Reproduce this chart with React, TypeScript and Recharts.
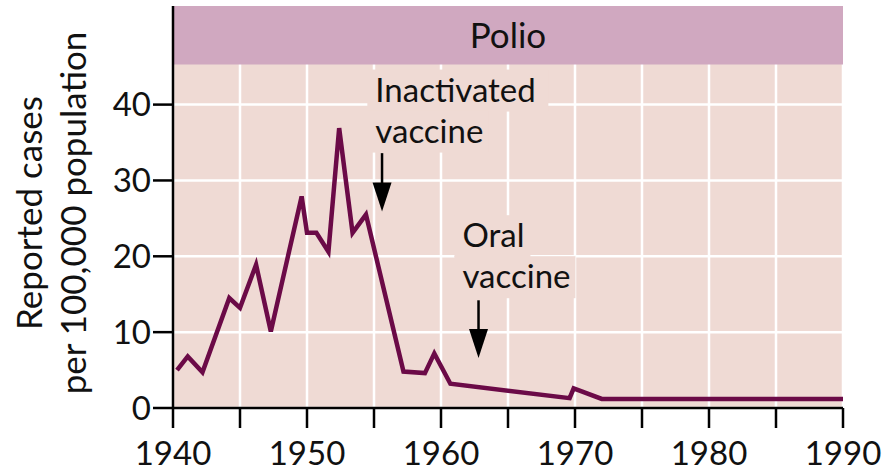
import {
  LineChart,
  Line,
  XAxis,
  YAxis,
  CartesianGrid,
  ReferenceArea,
  ReferenceLine,
  ReferenceDot,
  Label,
} from "recharts";

// reported polio cases per 100,000
const years = [
  1940.3, 1941.1, 1942.2, 1944.2, 1945.0, 1946.2, 1947.3, 1949.6, 1950.0, 1950.7, 1951.6,
  1952.4, 1953.4, 1954.4, 1957.2, 1958.8, 1959.5, 1960.7, 1969.6, 1969.9, 1972.0, 1990,
];
const cases = [
  5.0, 6.8, 4.7, 14.5, 13.2, 18.9, 10.1, 27.9, 23.1, 23.1, 20.6,
  36.9, 23.1, 25.5, 4.8, 4.6, 7.2, 3.2, 1.3, 2.6, 1.2, 1.2,
];

const xTicks = [1940, 1945, 1950, 1955, 1960, 1965, 1970, 1975, 1980, 1985, 1990];
const yTicks = [0, 10, 20, 30, 40];

// annotations: text lines, where the text starts, and arrow (x, from, to)
const noteLines = [["Inactivated", "vaccine"], ["Oral", "vaccine"]];
const noteAt = [[1955.1, 40.4], [1961.6, 21.2]];
const arrows = [[1955.6, 33.6, 25.9], [1962.8, 14.2, 6.6]];

const data = years.map((year, i) => ({ year, cases: cases[i] }));

const FONT = "Lato, 'Open Sans', sans-serif";
const PLOT_BG = "#efdad4";
const BAND = "#d0a8c0";
const LINE = "#6b0a47";
const INK = "#111";

const Note = ({ cx, cy, lines }: any) => (
  <g>
    {lines.map((t: string, i: number) => (
      <rect key={"r" + i} x={cx - 8} y={cy + i * 41 - 32} width={t.length * 15 + 16} height={42} fill={PLOT_BG} />
    ))}
    {lines.map((t: string, i: number) => (
      <text key={"t" + i} x={cx} y={cy + i * 41} fontSize={33} fill={INK} fontFamily={FONT}>
        {t}
      </text>
    ))}
  </g>
);

const ArrowHead = ({ cx, cy }: any) => (
  <polygon points={`${cx},${cy} ${cx - 9.5},${cy - 29} ${cx + 9.5},${cy - 29}`} fill="#000" />
);

const YTitle = ({ viewBox }: any) => {
  const cy = viewBox.y + viewBox.height / 2 + 6;
  return (
    <g fontFamily={FONT} fontSize={35} fill={INK}>
      <text transform={`translate(${viewBox.x + 42},${cy}) rotate(-90)`} textAnchor="middle">
        Reported cases
      </text>
      <text transform={`translate(${viewBox.x + 86},${cy}) rotate(-90)`} textAnchor="middle">
        per 100,000 population
      </text>
    </g>
  );
};

export default function App() {
  return (
    <div style={{ position: "absolute", left: 0, top: 0, width: 892, height: 472, background: "#fff" }}>
      <LineChart
        width={892}
        height={472}
        data={data}
        margin={{ top: 6, right: 49, left: 0, bottom: 0 }}
      >
        <CartesianGrid fill={PLOT_BG} stroke="#fff" strokeWidth={2.5} />
        <XAxis
          dataKey="year"
          type="number"
          domain={[1940, 1990]}
          ticks={xTicks}
          tickFormatter={(v) => (v % 10 === 0 ? String(v) : "")}
          height={64}
          tickSize={20}
          tickMargin={14}
          interval={0}
          stroke="#000"
          strokeWidth={2.5}
          tick={{ fill: INK, fontSize: 33, fontFamily: FONT }}
        />
        <YAxis
          type="number"
          domain={[0, 53]}
          ticks={yTicks}
          width={173}
          tickSize={20}
          tickMargin={2}
          interval={0}
          stroke="#000"
          strokeWidth={2.5}
          tick={{ fill: INK, fontSize: 33, fontFamily: FONT }}
        >
          <Label content={<YTitle />} />
        </YAxis>
        <ReferenceArea y1={45.3} y2={53} fill={BAND} fillOpacity={1} stroke="none">
          <Label value="Polio" position="center" fontSize={35} fill={INK} fontFamily={FONT} />
        </ReferenceArea>
        {noteLines.map((lines, i) => (
          <ReferenceDot
            key={"n" + i}
            x={noteAt[i][0]}
            y={noteAt[i][1]}
            r={0}
            shape={(p: any) => <Note {...p} lines={lines} />}
          />
        ))}
        {arrows.map(([x, from, to], i) => (
          <ReferenceLine
            key={"a" + i}
            segment={[{ x, y: from }, { x, y: to + 2 }]}
            stroke="#000"
            strokeWidth={2.5}
          />
        ))}
        {arrows.map(([x, , to], i) => (
          <ReferenceDot key={"h" + i} x={x} y={to} r={0} shape={(p: any) => <ArrowHead {...p} />} />
        ))}
        <Line
          type="linear"
          dataKey="cases"
          stroke={LINE}
          strokeWidth={4.5}
          strokeLinejoin="miter"
          dot={false}
          isAnimationActive={false}
        />
      </LineChart>
    </div>
  );
}
